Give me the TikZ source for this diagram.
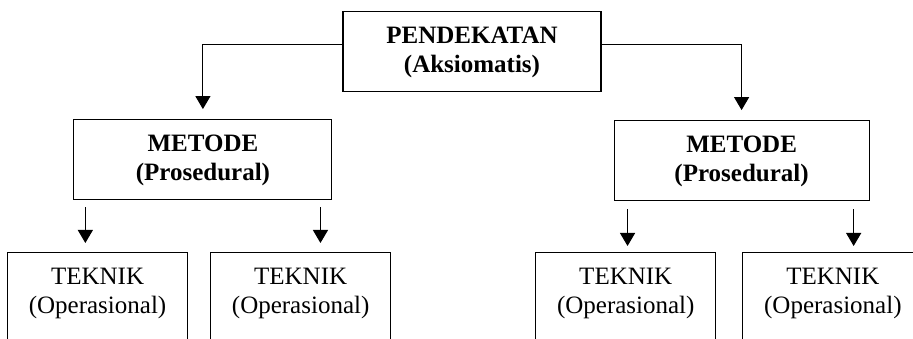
\documentclass[tikz,border=0pt]{standalone}
\usepackage{fontspec}
\setmainfont{Liberation Serif}
\usetikzlibrary{arrows.meta,positioning}

\begin{document}
\begin{tikzpicture}[x=1pt,y=-1pt,->,>={Triangle[width=15pt,length=13pt]},line width=1.1pt,
		box/.style={draw,inner sep=0pt,align=center,font=\fontsize{25}{29}\selectfont,text height=32pt},
		upper/.style={box,font=\fontsize{25}{29}\selectfont\bfseries,text depth=48pt},
		lower/.style={box,text width=180pt,text depth=120pt}]
				\useasboundingbox (0,0) rectangle (913,339);
				\clip (0,0) rectangle (913,339);
				\node [upper,text width=258pt,anchor=north] (p) at (472,11) {PENDEKATAN\\(Aksiomatis)};
				\node [upper,text width=258pt,below left=27pt and 10pt of p] (m1) {METODE\\(Prosedural)};
				\node [upper,text width=255pt,below right=28pt and 12pt of p] (m2) {METODE\\(Prosedural)};
				\node [lower,anchor=north west] (t1) at (7,252) {TEKNIK\\(Operasional)};
				\node [lower,right=22pt of t1] (t2) {TEKNIK\\(Operasional)};
				\node [lower,right=144pt of t2] (t3) {TEKNIK\\(Operasional)};
				\node [lower,right=26pt of t3] (t4) {TEKNIK\\(Operasional)};
				\draw ([yshift=7pt]p.west) -| ([yshift=10pt]m1.north);
				\draw ([yshift=7pt]p.east) -| ([yshift=10pt]m2.north);
				\coordinate (a1) at ([xshift=12pt]m1.south west);
				\coordinate (a2) at ([xshift=-12pt]m1.south east);
				\coordinate (a3) at ([xshift=14pt]m2.south west);
				\coordinate (a4) at ([xshift=-16pt]m2.south east);
				\draw [shorten <=7pt,shorten >=9pt] (a1) -- (a1 |- t1.north);
				\draw [shorten <=7pt,shorten >=9pt] (a2) -- (a2 |- t2.north);
				\draw [shorten <=8pt,shorten >=6pt] (a3) -- (a3 |- t3.north);
				\draw [shorten <=8pt,shorten >=6pt] (a4) -- (a4 |- t4.north);
			\end{tikzpicture}
\end{document}
